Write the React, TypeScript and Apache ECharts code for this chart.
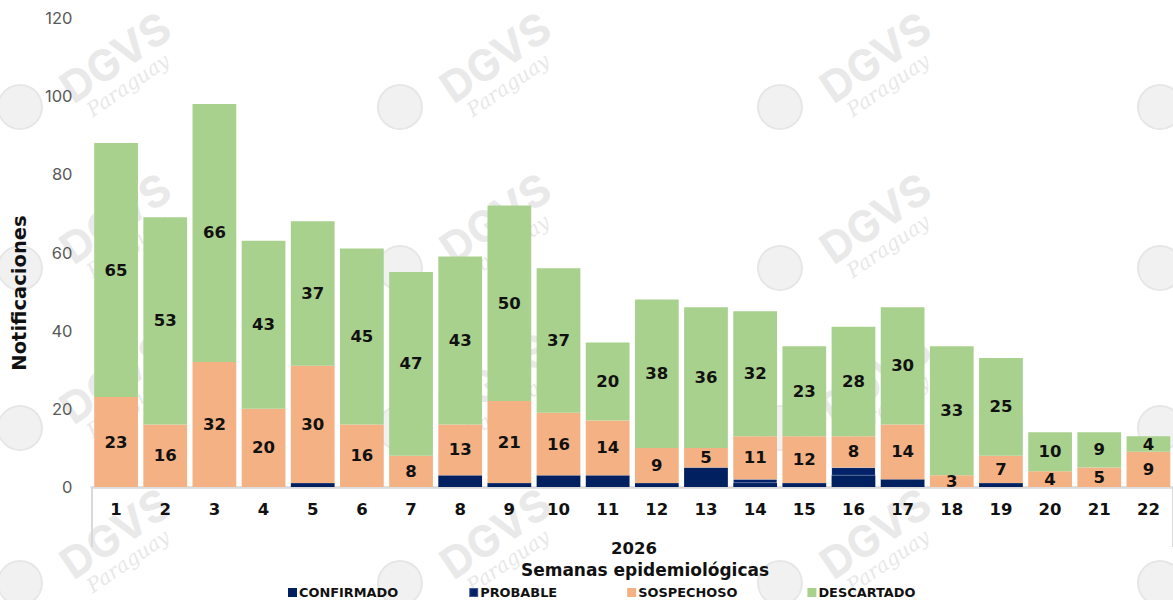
import React, { useEffect, useRef } from "react";
import * as echarts from "echarts";

const semanas = ["1","2","3","4","5","6","7","8","9","10","11","12","13","14","15","16","17","18","19","20","21","22"];
const confirmado = [0,0,0,0,1,0,0,3,1,3,3,1,5,1,1,3,2,0,1,0,0,0];
const probable = [0,0,0,0,0,0,0,0,0,0,0,0,0,1,0,2,0,0,0,0,0,0];
const sospechoso = [23,16,32,20,30,16,8,13,21,16,14,9,5,11,12,8,14,3,7,4,5,9];
const descartado = [65,53,66,43,37,45,47,43,50,37,20,38,36,32,23,28,30,33,25,10,9,4];
const yTicks = [0, 120, 20];

const BOLD = "'DejaVu Sans', sans-serif";
const LIGHT = "Inter, 'Open Sans', sans-serif";

function watermark() {
  const els: any[] = [];
  const cols = [20, 400, 780, 1160];
  const rows = [107, 268, 428, 583];
  rows.forEach((gy) => {
    cols.forEach((gx, ci) => {
      els.push({
        type: "circle",
        silent: true,
        z: -10,
        shape: { cx: gx, cy: gy, r: 22 },
        style: { fill: "#f1f1f1", stroke: "#e6e6e6", lineWidth: 2 },
      });
      if (ci === cols.length - 1) return;
      els.push({
        type: "text",
        silent: true,
        z: -10,
        x: gx + 95,
        y: gy - 50,
        rotation: 0.6,
        style: {
          text: "DGVS",
          fontFamily: LIGHT,
          fontWeight: "bold",
          fontSize: 43,
          fill: "#e9e9e9",
          align: "center",
          verticalAlign: "middle",
        },
      });
      els.push({
        type: "text",
        silent: true,
        z: -10,
        x: gx + 108,
        y: gy - 22,
        rotation: 0.6,
        style: {
          text: "Paraguay",
          fontFamily: "'DejaVu Serif', serif",
          fontStyle: "italic",
          fontSize: 20,
          fill: "#e8e8e8",
          align: "center",
          verticalAlign: "middle",
        },
      });
    });
  });
  return els;
}

export default function App() {
  const ref = useRef<HTMLDivElement>(null);
  useEffect(() => {
    document.body.style.margin = "0";
    const chart = echarts.init(ref.current!, undefined, { renderer: "svg" });
    const labelStyle = {
      show: true,
      position: "inside",
      fontFamily: BOLD,
      fontWeight: "bold",
      fontSize: 16.5,
      color: "#111",
    };
    chart.setOption({
      animation: false,
      backgroundColor: "#ffffff",
      grid: { left: 91.5, right: -3.5, top: 18, bottom: 113 },
      legend: {
        left: 288,
        top: 586,
        padding: 0,
        icon: "rect",
        itemWidth: 9,
        itemHeight: 9,
        itemGap: 70,
        textStyle: { fontFamily: BOLD, fontWeight: "bold", fontSize: 12.9, color: "#111", padding: [0, 0, 0, -3] },
        data: ["CONFIRMADO", "PROBABLE", "SOSPECHOSO", "DESCARTADO"],
      },
      xAxis: {
        type: "category",
        data: semanas,
        axisLine: { show: true, lineStyle: { color: "#d9d9d9", width: 2.5 } },
        axisTick: {
          show: true,
          length: 60,
          interval: (i: number) => i === 0,
          lineStyle: { color: "#d9d9d9", width: 2 },
        },
        axisLabel: { margin: 14, fontFamily: BOLD, fontWeight: "bold", fontSize: 16.5, color: "#111" },
      },
      yAxis: {
        type: "value",
        min: yTicks[0],
        max: yTicks[1],
        interval: yTicks[2],
        splitLine: { show: false },
        axisLine: { show: false },
        axisTick: { show: false },
        axisLabel: { margin: 19, fontFamily: LIGHT, fontSize: 16.5, color: "#595959" },
      },
      graphic: [
        ...watermark(),
        {
          type: "text",
          x: 19,
          y: 293,
          rotation: Math.PI / 2,
          style: { text: "Notificaciones", fontFamily: BOLD, fontWeight: "bold", fontSize: 19.5, fill: "#111", align: "center", verticalAlign: "middle" },
        },
        {
          type: "text",
          x: 634,
          y: 548,
          style: { text: "2026", fontFamily: BOLD, fontWeight: "bold", fontSize: 16.5, fill: "#111", align: "center", verticalAlign: "middle" },
        },
        {
          type: "text",
          x: 645,
          y: 570,
          style: { text: "Semanas epidemiológicas", fontFamily: BOLD, fontWeight: "bold", fontSize: 17, fill: "#111", align: "center", verticalAlign: "middle" },
        },
      ],
      series: [
        { name: "CONFIRMADO", type: "bar", stack: "t", data: confirmado, barCategoryGap: "11%", itemStyle: { color: "#002060" } },
        { name: "PROBABLE", type: "bar", stack: "t", data: probable, itemStyle: { color: "#03226a", borderColor: "rgba(255,255,255,0.25)", borderWidth: 0.5 } },
        { name: "SOSPECHOSO", type: "bar", stack: "t", data: sospechoso, itemStyle: { color: "#f4b183" }, label: labelStyle },
        { name: "DESCARTADO", type: "bar", stack: "t", data: descartado, itemStyle: { color: "#a9d18e" }, label: labelStyle },
      ],
    });
    return () => chart.dispose();
  }, []);
  return <div ref={ref} style={{ width: 1173, height: 600 }} />;
}
